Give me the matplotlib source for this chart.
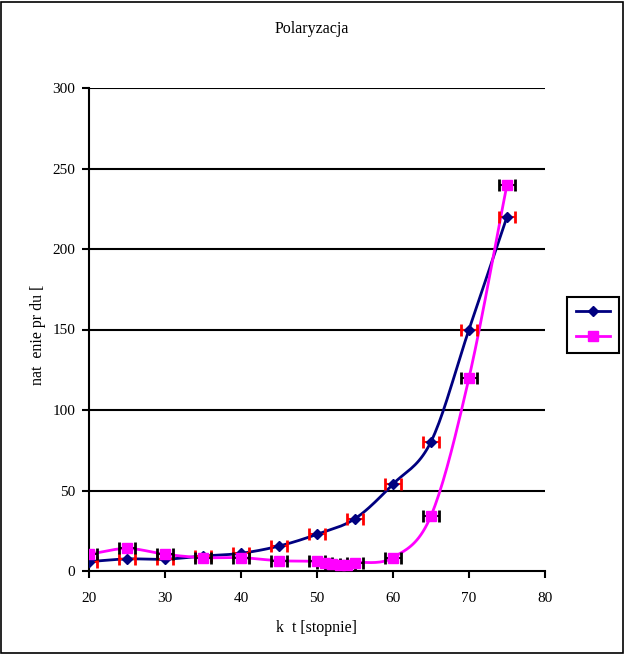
import matplotlib.pyplot as plt
import numpy as np
from matplotlib.lines import Line2D

plt.rcParams['font.family'] = ['Liberation Serif', 'DejaVu Serif']

# data
kat_1 = [20, 25, 30, 35, 40, 45, 50, 55, 60, 65, 70, 75]
prad_1 = [5.8, 7.5, 7.3, 9.3, 11, 15.5, 22.8, 32.5, 54, 80.3, 150, 220]

kat_2 = [20, 25, 30, 35, 40, 45, 50, 51, 52, 53, 54, 55, 60, 65, 70, 75]
prad_2 = [10.4, 14, 10.4, 8.3, 8.3, 6.4, 6, 5.2, 4.3, 3.5, 3.5, 5.2, 8.3, 34.3, 120, 240]

blad_kata = 1.0

x_ticks = [20, 30, 40, 50, 60, 70, 80]
y_ticks = [0, 50, 100, 150, 200, 250, 300]


def smooth(x, y, n=20):
    # catmull-rom like the "smoothed line" option in excel
    x = np.asarray(x, float)
    y = np.asarray(y, float)
    px = np.concatenate([[2 * x[0] - x[1]], x, [2 * x[-1] - x[-2]]])
    py = np.concatenate([[2 * y[0] - y[1]], y, [2 * y[-1] - y[-2]]])
    xs, ys = [], []
    t = np.linspace(0, 1, n)
    for i in range(1, len(px) - 2):
        for p, out in ((px, xs), (py, ys)):
            p0, p1, p2, p3 = p[i - 1], p[i], p[i + 1], p[i + 2]
            out.extend(0.5 * ((2 * p1) + (-p0 + p2) * t
                              + (2 * p0 - 5 * p1 + 4 * p2 - p3) * t ** 2
                              + (-p0 + 3 * p1 - 3 * p2 + p3) * t ** 3))
    return xs, ys


fig = plt.figure(figsize=(6.25, 6.55), dpi=100)
ax = fig.add_axes([89 / 625, 84 / 655, 456 / 625, 483 / 655])

# frame around the whole figure
fig.patches.append(plt.Rectangle((0.002, 0.003), 0.994, 0.994, transform=fig.transFigure,
                                 fill=False, edgecolor='black', linewidth=1.2))

for y in y_ticks[1:]:
    ax.axhline(y, color='black', linewidth=1.5, zorder=1)

sx, sy = smooth(kat_1, prad_1)
ax.plot(sx, sy, color='#000080', linewidth=2, zorder=3)
sx, sy = smooth(kat_2, prad_2)
ax.plot(sx, sy, color='#FF00FF', linewidth=2, zorder=3)

ax.errorbar(kat_1, prad_1, xerr=blad_kata, fmt='none', ecolor='red',
            elinewidth=1.5, capsize=4, capthick=2, zorder=4)
ax.errorbar(kat_2, prad_2, xerr=blad_kata, fmt='none', ecolor='black',
            elinewidth=1.5, capsize=4, capthick=2, zorder=4)
ax.plot(kat_1, prad_1, linestyle='none', marker='D', markersize=5,
        color='#000080', zorder=5)
ax.plot(kat_2, prad_2, linestyle='none', marker='s', markersize=7,
        color='#FF00FF', zorder=5)

ax.set_xlim(20, 80)
ax.set_ylim(0, 300)
ax.set_xticks(x_ticks)
ax.set_yticks(y_ticks)
ax.tick_params(direction='out', length=5, width=1.5, labelsize=11)
ax.tick_params(axis='x', pad=10)
ax.tick_params(axis='y', pad=5)
for s in ['top', 'right']:
    ax.spines[s].set_visible(False)
for s in ['left', 'bottom']:
    ax.spines[s].set_linewidth(1.5)

fig.text(312 / 625, 1 - 29 / 655, 'Polaryzacja', ha='center', va='center', fontsize=11.5)
fig.text(317 / 625, 1 - 628 / 655, 'k  t [stopnie]', ha='center', va='center', fontsize=11.5)
fig.text(38 / 625, 1 - 335 / 655, 'nat  enie pr du [', rotation=90,
         ha='center', va='center', fontsize=11.5)

handles = [Line2D([], [], color='#000080', linewidth=2, marker='D', markersize=5),
           Line2D([], [], color='#FF00FF', linewidth=2, marker='s', markersize=7)]
leg = fig.legend(handles, ['', ''], loc='center', bbox_to_anchor=(593 / 625, 1 - 325 / 655),
                 frameon=True, fancybox=False, edgecolor='black', framealpha=1,
                 handlelength=2.5, handletextpad=0, borderpad=0.6, labelspacing=0.9)
leg.get_frame().set_linewidth(1.5)

fig.savefig('out.png', dpi=100)
